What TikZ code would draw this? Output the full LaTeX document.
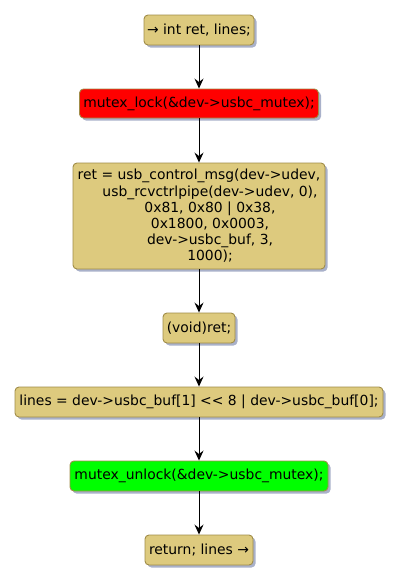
\documentclass[tikz,border=0pt]{standalone}
\usepackage{fontspec}
\setmainfont{DejaVu Sans}
\usetikzlibrary{arrows.meta,shadows}

\definecolor{actfill}{RGB}{221,202,126}
\definecolor{actborder}{RGB}{160,140,72}
\definecolor{actshadow}{RGB}{160,168,196}
\definecolor{lockred}{RGB}{255,0,0}
\definecolor{unlockgreen}{RGB}{0,255,0}

\newcommand{\contind}{\hspace*{22pt}}

\tikzset{
  action/.style={draw=actborder, line width=0.9pt, fill=actfill,
    rounded corners=4pt, inner sep=0pt, align=center,
    font=\fontsize{13.9}{16.2}\selectfont,
    drop shadow={shadow xshift=2.5pt, shadow yshift=-2.5pt,
      fill=actshadow, opacity=0.9}},
  flow/.style={-{Stealth[length=10pt, width=9pt, inset=3.5pt]}, line width=0.9pt}
}

\begin{document}
\begin{tikzpicture}[x=1pt, y=-1pt]
    \useasboundingbox (0,0) rectangle (401,584);

    % Activity boxes, top to bottom
    \node[action, minimum width=110pt, minimum height=30pt] (start) at (199,30) {→ int ret, lines;};
    \node[action, fill=lockred, minimum width=239pt, minimum height=29pt] (lock) at (199,103.5) {mutex\_lock(\&dev->usbc\_mutex);};
    \node[action, minimum width=252pt, minimum height=106pt] (ctrl) at (199,216)
        {ret = usb\_control\_msg(dev->udev,\\
         \contind usb\_rcvctrlpipe(dev->udev, 0),\\
         \contind 0x81, 0x80 | 0x38,\\
         \contind 0x1800, 0x0003,\\
         \contind dev->usbc\_buf, 3,\\
         \contind 1000);};
    \node[action, minimum width=72pt, minimum height=30pt] (void) at (199,328) {(void)ret;};
    \node[action, minimum width=368pt, minimum height=30pt] (lines) at (199,402) {lines = dev->usbc\_buf[1] {<}{<} 8 | dev->usbc\_buf[0];};
    \node[action, fill=unlockgreen, minimum width=258pt, minimum height=30pt] (unlock) at (199,476) {mutex\_unlock(\&dev->usbc\_mutex);};
    \node[action, minimum width=108pt, minimum height=30pt] (ret) at (199,550) {return; lines →};

    % Control flow
    \draw[flow] (start) -- (lock);
    \draw[flow] (lock) -- (ctrl);
    \draw[flow] (ctrl) -- (void);
    \draw[flow] (void) -- (lines);
    \draw[flow] (lines) -- (unlock);
    \draw[flow] (unlock) -- (ret);
\end{tikzpicture}
\end{document}
